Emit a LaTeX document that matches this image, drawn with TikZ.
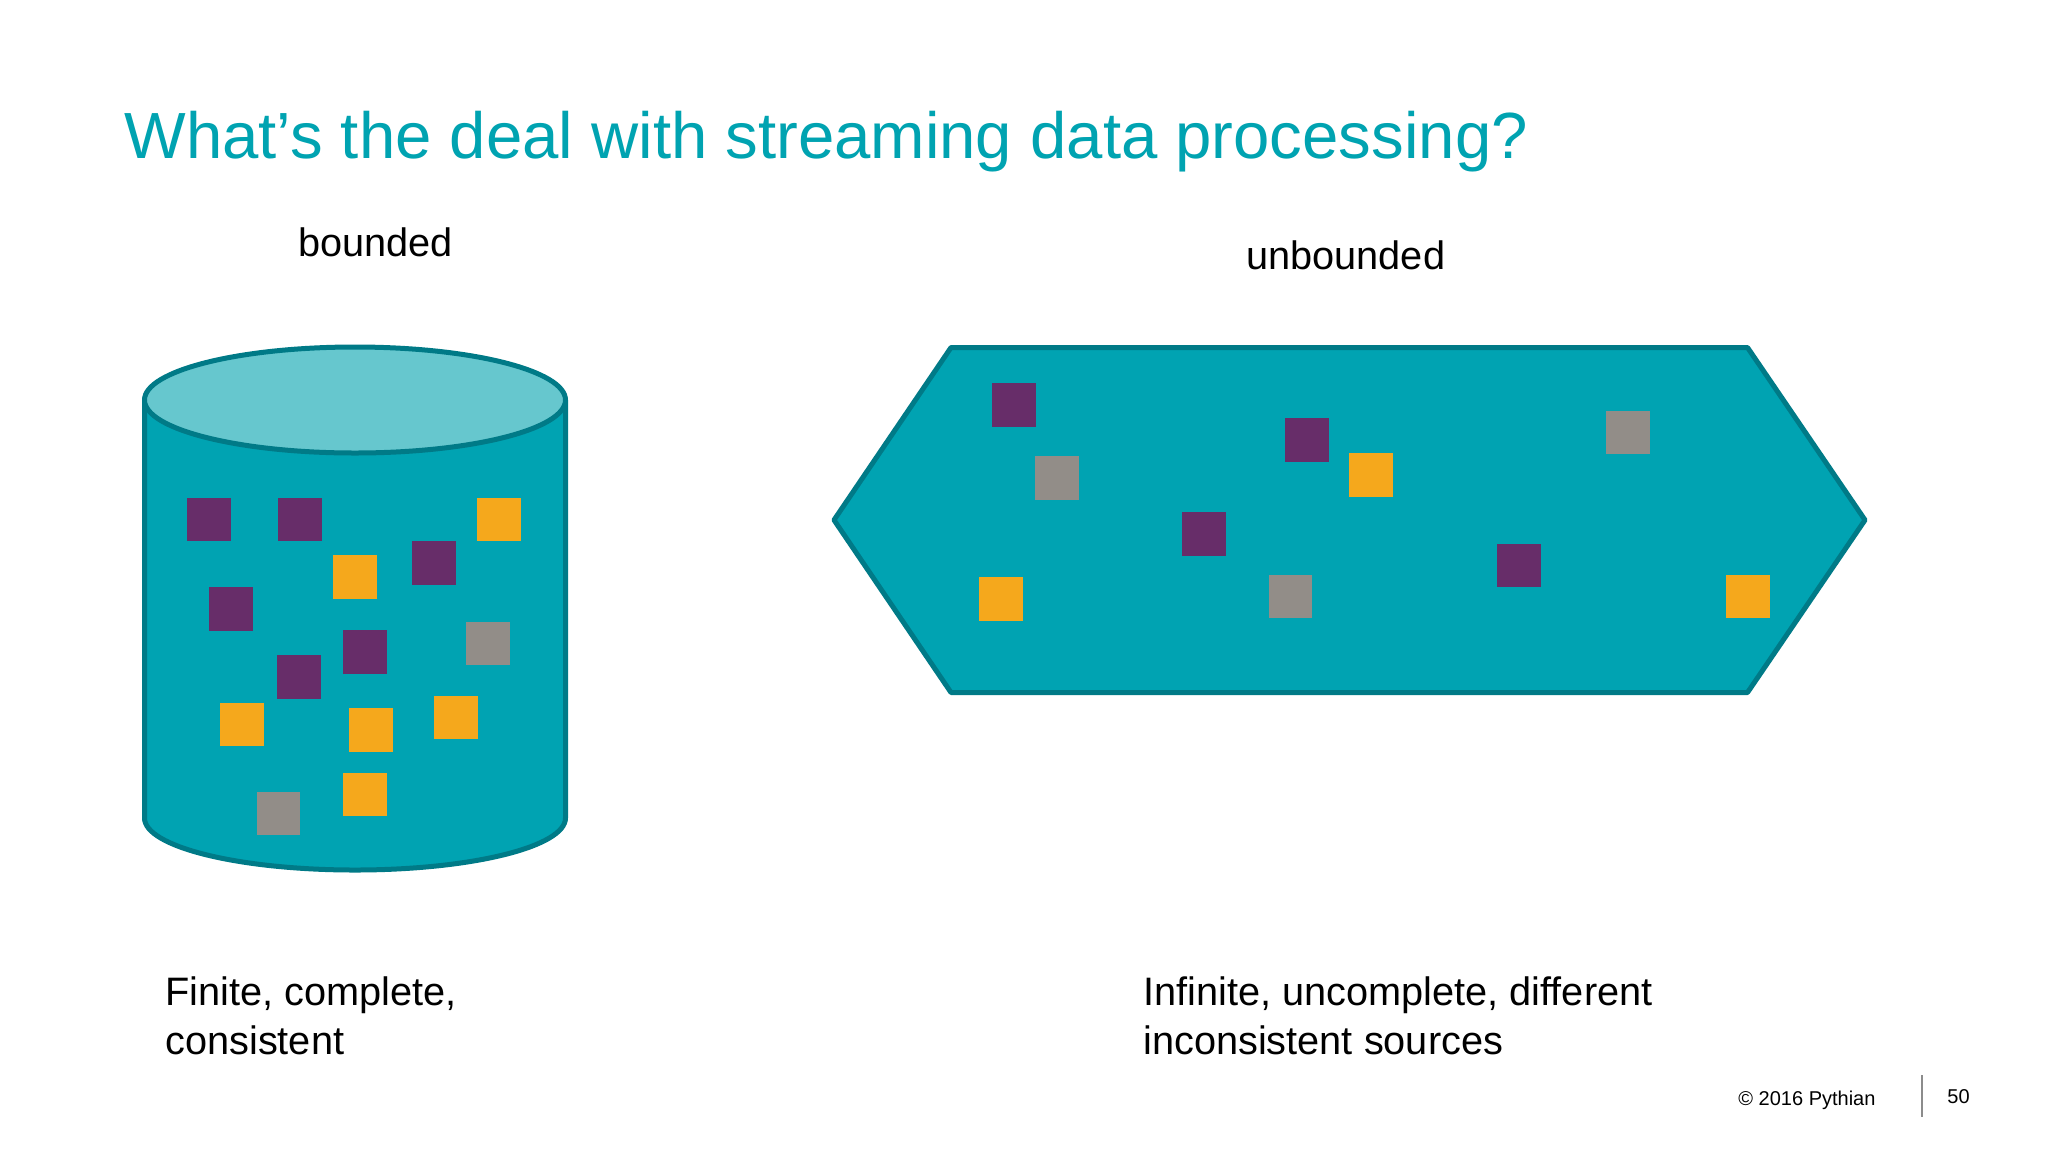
\documentclass[tikz,border=0pt]{standalone}
\usepackage{fontspec}
\setmainfont{Liberation Sans}
\definecolor{slidetitle}{HTML}{00A3B1}
\definecolor{tealbody}{HTML}{00A3B2}
\definecolor{tealline}{HTML}{007A87}
\definecolor{tealtop}{HTML}{66C7CE}
\definecolor{itempurple}{HTML}{672D69}
\definecolor{itemorange}{HTML}{F5A81C}
\definecolor{itemgray}{HTML}{928D88}
\definecolor{footbar}{HTML}{8C8C8C}
\begin{document}
\begin{tikzpicture}[x=0.5pt,y=-0.5pt,
  label/.style={inner sep=0,anchor=base west,font=\fontsize{19.85}{25}\selectfont},
  foot/.style={inner sep=0,anchor=base west,font=\fontsize{10}{12}\selectfont},
  outlined/.style={draw=tealline,line width=2.5pt,line join=round}]
\useasboundingbox (0,0) rectangle (2048,1152);
\fill [white] (0,0) rectangle (2048,1152);

% Draw title
\node (title) [inner sep=0,anchor=base west,text=slidetitle,font=\fontsize{32.65}{40}\selectfont] at (124,158) {What’s the deal with streaming data processing?};

% Draw headings
\node (bounded) [label] at (298,256) {bounded};
\node (unbounded) [label] at (1246,269) {unbounded};

%Draw cylinder
\draw [outlined,fill=tealbody] (144.5,400) -- (144.5,818)
   arc [start angle=180,end angle=0,x radius=210.5,y radius=52]
   -- (565.5,400) -- cycle;
\draw [outlined,fill=tealtop] (355,400) ellipse [x radius=210.5,y radius=53];

%Draw stream
\draw [outlined,fill=tealbody] (834,520) -- (951,347.5) -- (1747.5,347.5)
   -- (1865,520) -- (1747.5,692.5) -- (951,692.5) -- cycle;

%Draw squares in cylinder and stream
\foreach \sx/\sy in {187/497.5,278/497.5,412/541,209/587,343/630,277/655,
                     992/383,1285/418,1182/512,1497/543.5}
  \fill [itempurple] (\sx,\sy) rectangle +(43.5,43.5);
\foreach \sx/\sy in {477/497.5,333/555,220/702.5,349/708,434/695.5,343/772.5,
                     1349/453,979/577,1726/574.5}
  \fill [itemorange] (\sx,\sy) rectangle +(43.5,43.5);
\foreach \sx/\sy in {466/621.5,256.5/791.5,1035/456,1606/410.5,1268.5/574.5}
  \fill [itemgray] (\sx,\sy) rectangle +(43.5,43.5);

%Draw captions
\node (finite) [label] at (165,1005) {Finite, complete,};
\node (consistent) [label] at (165,1054) {consistent};
\node (infinite) [label] at (1143,1005) {Infinite, uncomplete, different};
\node (sources) [label] at (1143,1054) {inconsistent sources};

%Draw footer
\node (copy) [foot] at (1738,1105) {© 2016 Pythian};
\node (page) [foot] at (1947,1103) {50};
\coordinate (bartop) at (1922,1075);
\coordinate (barbot) at (1922,1117);
\draw [footbar,line width=1.2pt] (bartop) -- (barbot);
\end{tikzpicture}
\end{document}
